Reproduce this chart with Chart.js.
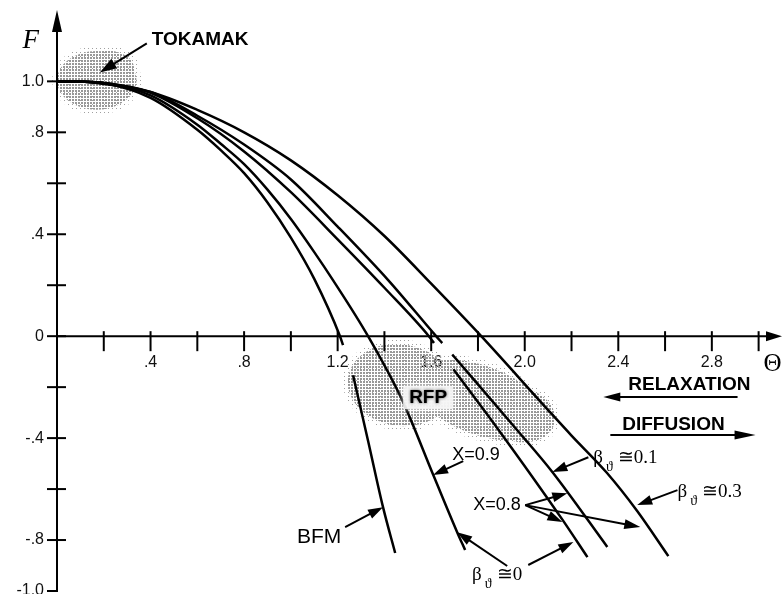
<!DOCTYPE html>
<html>
<head>
<meta charset="utf-8">
<script src="https://cdn.jsdelivr.net/npm/chart.js@4.4.1/dist/chart.umd.min.js"></script>
<style>
  html, body { margin: 0; padding: 0; background: #fff; }
  #wrap { width: 783px; height: 594px; position: relative; }
</style>
</head>
<body>
<div id="wrap"><canvas id="c"></canvas></div>
<script>
// ---- F–Θ curves (Θ values and matching F values; null marks a break in the line) ----
const bfmTheta = [0, 0.1, 0.2, 0.4, 0.6, 0.7, 0.8, 0.9, 1.0, 1.1, 1.21, 1.223, 1.245, 1.266, 1.33, 1.394, 1.446];
const bfmF     = [1.0, 0.999, 0.993, 0.935, 0.81, 0.73, 0.64, 0.525, 0.387, 0.225, 0.0, -0.035, null, -0.153, -0.41, -0.671, -0.851];

const x09Theta = [0, 0.1, 0.2, 0.4, 0.6, 0.7, 0.8, 0.9, 1.0, 1.1, 1.18, 1.33, 1.476, 1.609, 1.711, 1.745];
const x09F     = [1.0, 0.999, 0.993, 0.945, 0.83, 0.755, 0.675, 0.575, 0.46, 0.33, 0.22, 0.0, -0.251, -0.545, -0.769, -0.839];

const beta0Theta = [0, 0.1, 0.2, 0.4, 0.6, 0.8, 1.0, 1.2, 1.4, 1.59, 1.612, 1.65, 1.695, 1.882, 2.161, 2.268];
const beta0F     = [1.0, 0.999, 0.994, 0.955, 0.855, 0.725, 0.565, 0.38, 0.19, 0.0, -0.027, null, -0.13, -0.36, -0.72, -0.867];

const beta01Theta = [0, 0.1, 0.2, 0.4, 0.6, 0.8, 1.0, 1.2, 1.416, 1.621, 1.647, 1.67, 1.69, 1.968, 2.118, 2.353];
const beta01F     = [1.0, 0.999, 0.994, 0.958, 0.865, 0.752, 0.615, 0.43, 0.22, 0.0, -0.027, null, -0.072, -0.369, -0.533, -0.827];

const beta03Theta = [0, 0.1, 0.2, 0.4, 0.6, 0.8, 1.0, 1.2, 1.4, 1.6, 1.814, 2.1, 2.2, 2.35, 2.48, 2.614];
const beta03F     = [1.0, 0.999, 0.99, 0.958, 0.888, 0.80, 0.69, 0.553, 0.393, 0.206, 0.0, -0.29, -0.39, -0.535, -0.685, -0.863];

// ---- axis ticks ----
const xTickValues = [0.2, 0.4, 0.6, 0.8, 1.0, 1.2, 1.4, 1.6, 1.8, 2.0, 2.2, 2.4, 2.6, 2.8, 3.0];
const xTickLabels = ['', '.4', '', '.8', '', '1.2', '', '1.6', '', '2.0', '', '2.4', '', '2.8', ''];
const yTickValues = [-1.0, -0.8, -0.6, -0.4, -0.2, 0, 0.2, 0.4, 0.6, 0.8, 1.0];
const yTickLabels = ['-1.0', '-.8', '', '-.4', '', '0', '', '.4', '', '.8', '1.0'];

// ---- annotations, in data units (Θ, F) ----
const notes = {
  texts: [
    { t: 'TOKAMAK',    at: [0.405, 1.165],  font: 'bold 19px "Liberation Sans", Arial, sans-serif' },
    { t: 'RELAXATION', at: [2.443, -0.192], font: 'bold 19px "Liberation Sans", Arial, sans-serif' },
    { t: 'DIFFUSION',  at: [2.417, -0.349], font: 'bold 19px "Liberation Sans", Arial, sans-serif' },
    { t: 'X=0.9',      at: [1.69, -0.467],  font: '18px "Liberation Sans", Arial, sans-serif' },
    { t: 'X=0.8',      at: [1.78, -0.663],  font: '18px "Liberation Sans", Arial, sans-serif' },
    { t: 'BFM',        at: [1.026, -0.788], font: '21px "Liberation Sans", Arial, sans-serif' }
  ],
  betas: [
    { v: '\u22450.1', at: [2.293, -0.478] },
    { v: '\u22450.3', at: [2.653, -0.612] },
    { v: '\u22450',   at: [1.775, -0.937] }
  ],
  arrows: [
    { from: [0.384, 1.149],  to: [0.183, 1.035],  len: 17, half: 5.5 },
    { from: [1.737, -0.49],  to: [1.608, -0.545], len: 15, half: 5 },
    { from: [1.232, -0.749], to: [1.394, -0.671], len: 15, half: 5 },
    { from: [1.925, -0.902], to: [1.711, -0.769], len: 15, half: 5 },
    { from: [2.015, -0.898], to: [2.208, -0.808], len: 15, half: 5 },
    { from: [2.002, -0.663], to: [2.182, -0.616], len: 15, half: 5 },
    { from: [2.002, -0.663], to: [2.161, -0.729], len: 15, half: 5 },
    { from: [2.002, -0.663], to: [2.494, -0.749], len: 16, half: 5 },
    { from: [2.272, -0.475], to: [2.118, -0.533], len: 15, half: 5 },
    { from: [2.653, -0.604], to: [2.481, -0.663], len: 15, half: 5 },
    { from: [2.91, -0.239],  to: [2.336, -0.239], len: 17, half: 4.5 },
    { from: [2.366, -0.388], to: [2.987, -0.388], len: 21, half: 4.5 }
  ],
  // shaded regions: ellipses with centre, radii (Θ, F units) and tilt
  tokamak: [
    { c: [0.17, 1.004], r: [0.17, 0.115], rot: 0 },
    { c: [0.22, 1.05],  r: [0.11, 0.07],  rot: 0 }
  ],
  rfp: [
    { c: [1.467, -0.192], r: [0.225, 0.16],  rot: 0.15 },
    { c: [1.809, -0.251], r: [0.30, 0.135],  rot: 0.35 },
    { c: [1.981, -0.31],  r: [0.15, 0.105],  rot: 0.2 }
  ],
  rfpLabel: [1.587, -0.239],
  fTitle: [-0.112, 1.157],
  thetaTitle: [3.06, -0.11]
};

const toPts = (th, f) => th.map((t, i) => ({ x: t, y: f[i] }));

function makePattern(ctx, size, dot, color) {
  const c = document.createElement('canvas');
  c.width = size; c.height = size;
  const g = c.getContext('2d');
  g.fillStyle = color;
  g.fillRect(0, 0, dot, dot);
  return ctx.createPattern(c, 'repeat');
}

function ellipsePath(ctx, xs, ys, e, grow) {
  const cx = xs.getPixelForValue(e.c[0]), cy = ys.getPixelForValue(e.c[1]);
  const rx = Math.abs(xs.getPixelForValue(e.c[0] + e.r[0]) - cx) + grow;
  const ry = Math.abs(ys.getPixelForValue(e.c[1] + e.r[1]) - cy) + grow;
  ctx.beginPath();
  ctx.ellipse(cx, cy, rx, ry, e.rot, 0, Math.PI * 2);
}

function drawBlob(ctx, xs, ys, list) {
  const soft = makePattern(ctx, 4, 1, '#a0a0a0');
  const dense = makePattern(ctx, 3, 2, '#989898');
  ctx.save();
  ctx.fillStyle = soft;
  list.forEach(e => { ellipsePath(ctx, xs, ys, e, 5); ctx.fill(); });
  ctx.fillStyle = dense;
  list.forEach(e => { ellipsePath(ctx, xs, ys, e, 0); ctx.fill(); });
  ctx.restore();
}

function arrow(ctx, x1, y1, x2, y2, len, half, lw) {
  const a = Math.atan2(y2 - y1, x2 - x1);
  const bx = x2 - Math.cos(a) * len, by = y2 - Math.sin(a) * len;
  ctx.lineWidth = lw;
  ctx.beginPath();
  ctx.moveTo(x1, y1);
  ctx.lineTo(bx + Math.cos(a) * 2, by + Math.sin(a) * 2);
  ctx.stroke();
  ctx.beginPath();
  ctx.moveTo(x2, y2);
  ctx.lineTo(bx - Math.sin(a) * half, by + Math.cos(a) * half);
  ctx.lineTo(bx + Math.sin(a) * half, by - Math.cos(a) * half);
  ctx.closePath();
  ctx.fill();
}

const diagramPlugin = {
  id: 'diagram',
  beforeDatasetsDraw(chart) {
    const { ctx, scales: { x, y } } = chart;
    drawBlob(ctx, x, y, notes.tokamak);
    drawBlob(ctx, x, y, notes.rfp);
  },
  afterDatasetsDraw(chart) {
    const { ctx, chartArea: area, scales: { x, y } } = chart;
    const px = v => x.getPixelForValue(v), py = v => y.getPixelForValue(v);
    const x0 = px(0), y0 = py(0);
    ctx.save();
    ctx.strokeStyle = '#000';
    ctx.fillStyle = '#000';
    ctx.lineCap = 'butt';

    // y axis with arrow
    ctx.lineWidth = 2;
    ctx.beginPath();
    ctx.moveTo(x0, py(-1.0) + 1);
    ctx.lineTo(x0, area.top + 18);
    ctx.stroke();
    ctx.beginPath();
    ctx.moveTo(x0, area.top);
    ctx.lineTo(x0 - 5, area.top + 22);
    ctx.lineTo(x0 + 5, area.top + 22);
    ctx.closePath();
    ctx.fill();

    // x axis with arrow
    ctx.beginPath();
    ctx.moveTo(x0, y0);
    ctx.lineTo(area.right - 12, y0);
    ctx.stroke();
    ctx.beginPath();
    ctx.moveTo(area.right, y0);
    ctx.lineTo(area.right - 16, y0 - 5);
    ctx.lineTo(area.right - 16, y0 + 5);
    ctx.closePath();
    ctx.fill();

    // tick marks
    ctx.lineWidth = 2;
    y.ticks.forEach(t => {
      const p = py(t.value);
      ctx.beginPath();
      ctx.moveTo(x0 - 10, p);
      ctx.lineTo(t.value <= -1.0 ? x0 : x0 + 9, p);
      ctx.stroke();
    });
    x.ticks.forEach(t => {
      const p = px(t.value);
      ctx.beginPath();
      ctx.moveTo(p, y0 - 5);
      ctx.lineTo(p, y0 + 15);
      ctx.stroke();
    });

    // axis titles
    ctx.textBaseline = 'middle';
    ctx.textAlign = 'center';
    ctx.font = 'italic 27px "Liberation Serif", "Times New Roman", serif';
    ctx.fillText('F', px(notes.fTitle[0]), py(notes.fTitle[1]));
    ctx.font = '25px "Liberation Serif", "Times New Roman", serif';
    ctx.fillText('\u0398', px(notes.thetaTitle[0]), py(notes.thetaTitle[1]));

    // plain labels
    ctx.textAlign = 'left';
    notes.texts.forEach(n => {
      ctx.font = n.font;
      ctx.fillText(n.t, px(n.at[0]), py(n.at[1]));
    });

    // β_ϑ labels
    notes.betas.forEach(b => {
      const bx = px(b.at[0]), by = py(b.at[1]);
      ctx.font = '19px "Liberation Serif", "DejaVu Serif", serif';
      ctx.fillText('\u03B2', bx, by);
      const wb = ctx.measureText('\u03B2').width;
      ctx.font = '14px "Liberation Serif", "DejaVu Serif", serif';
      ctx.fillText('\u03D1', bx + wb + 3, by + 9);
      const ws = ctx.measureText('\u03D1').width;
      ctx.font = '19px "Liberation Serif", "DejaVu Serif", serif';
      ctx.fillText(b.v, bx + wb + ws + 8, by);
    });

    // RFP label on a light patch
    const rx = px(notes.rfpLabel[0]), ry = py(notes.rfpLabel[1]);
    ctx.save();
    ctx.shadowColor = 'rgba(255,255,255,0.9)';
    ctx.shadowBlur = 6;
    ctx.fillStyle = 'rgba(245,245,245,0.85)';
    ctx.fillRect(rx - 25, ry - 11, 50, 23);
    ctx.restore();
    ctx.save();
    ctx.font = 'bold 19px "Liberation Sans", Arial, sans-serif';
    ctx.textAlign = 'center';
    ctx.shadowColor = 'rgba(60,60,60,0.9)';
    ctx.shadowBlur = 3;
    ctx.fillText('RFP', rx, ry + 1);
    ctx.restore();

    // pointer arrows
    notes.arrows.forEach(a => {
      arrow(ctx, px(a.from[0]), py(a.from[1]), px(a.to[0]), py(a.to[1]), a.len, a.half, 2);
    });
    ctx.restore();
  }
};

const lineStyle = {
  borderColor: '#000',
  borderWidth: 2.5,
  pointRadius: 0,
  fill: false,
  spanGaps: false,
  cubicInterpolationMode: 'monotone'
};

new Chart(document.getElementById('c'), {
  type: 'line',
  data: {
    datasets: [
      { label: 'BFM', data: toPts(bfmTheta, bfmF), ...lineStyle },
      { label: 'X=0.9', data: toPts(x09Theta, x09F), ...lineStyle },
      { label: 'X=0.8, β≅0', data: toPts(beta0Theta, beta0F), ...lineStyle },
      { label: 'X=0.8, β≅0.1', data: toPts(beta01Theta, beta01F), ...lineStyle },
      { label: 'X=0.8, β≅0.3', data: toPts(beta03Theta, beta03F), ...lineStyle }
    ]
  },
  options: {
    responsive: true,
    maintainAspectRatio: false,
    animation: false,
    events: [],
    layout: { padding: { top: 10, right: 1, bottom: 3, left: 0 } },
    plugins: { legend: { display: false }, tooltip: { enabled: false }, title: { display: false } },
    scales: {
      x: {
        type: 'linear',
        min: 0,
        max: 3.1,
        position: { y: 0 },
        grid: { display: false, drawTicks: false },
        border: { display: false },
        ticks: {
          autoSkip: false,
          maxRotation: 0,
          padding: 17,
          color: '#111',
          font: { family: '"Liberation Sans", Arial, sans-serif', size: 16 },
          callback: (v, i) => xTickLabels[i]
        },
        afterBuildTicks: s => { s.ticks = xTickValues.map(v => ({ value: v })); },
        afterFit: s => { s.paddingLeft = 0; s.paddingRight = 0; }
      },
      y: {
        type: 'linear',
        min: -1.0,
        max: 1.28,
        position: 'left',
        grid: { display: false, drawTicks: false },
        border: { display: false },
        ticks: {
          autoSkip: false,
          padding: 13,
          color: '#111',
          font: { family: '"Liberation Sans", Arial, sans-serif', size: 16 },
          callback: (v, i) => yTickLabels[i]
        },
        afterBuildTicks: s => { s.ticks = yTickValues.map(v => ({ value: v })); },
        afterFit: s => { s.width = 57; s.paddingTop = 0; s.paddingBottom = 0; }
      }
    }
  },
  plugins: [diagramPlugin]
});
</script>
</body>
</html>
